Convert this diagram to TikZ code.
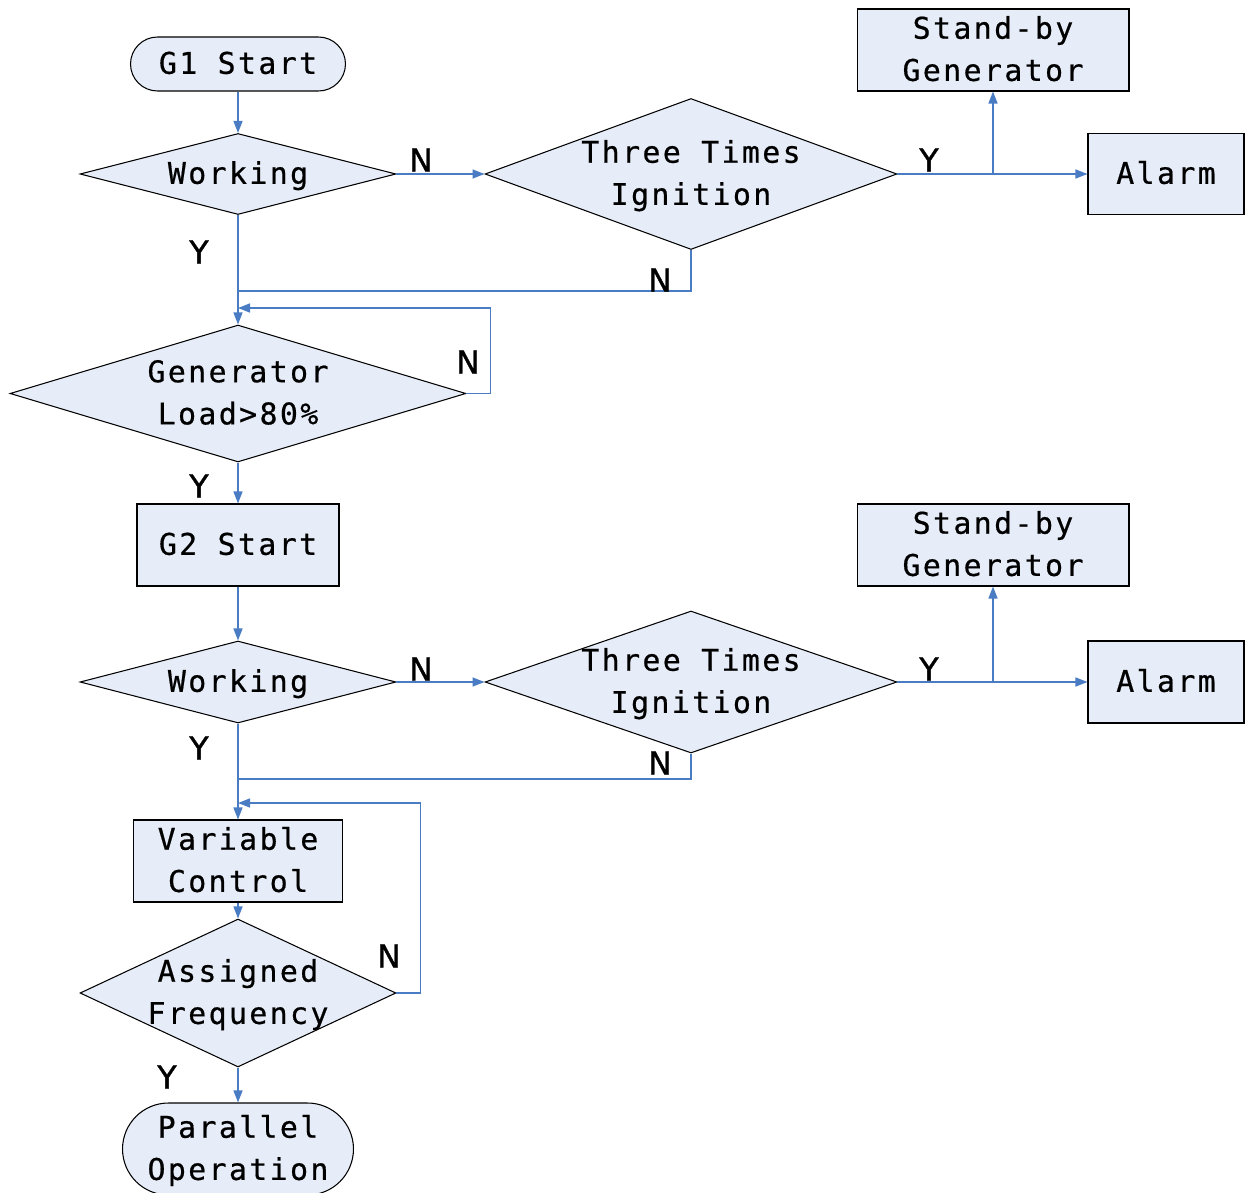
\documentclass[tikz,border=0pt]{standalone}
\usepackage{fontspec}
\usetikzlibrary{shapes.geometric,shapes.misc,arrows.meta}
\newfontfamily\nodefont[LetterSpace=8,FakeBold=0.6]{DejaVu Sans Mono}
\newfontfamily\ynfont[FakeBold=1.2]{DejaVu Sans}
\definecolor{boxfill}{HTML}{E7EDF8}
\definecolor{linkblue}{HTML}{4A7CC4}
\newcommand{\zt}[1]{\makebox[0pt]{\raisebox{-0.3em}[0pt][0pt]{\begin{tabular}{@{}c@{}}#1\end{tabular}}}}
\tikzset{
  base/.style={draw=black, line width=0.6pt, fill=boxfill, inner sep=0pt,
    font=\nodefont\fontsize{17}{24}\selectfont},
  dia/.style={base, diamond, minimum width=#1},
  boxn/.style={base, rectangle},
  term/.style={base, rounded rectangle},
  link/.style={draw=linkblue, line width=0.8pt},
  arr/.style={link, -{Triangle[length=0.24cm,width=0.18cm]}},
  yn/.style={font=\ynfont\fontsize{18}{20}\selectfont, inner sep=0pt}
}
\begin{document}
\begin{tikzpicture}[x=0.02cm,y=-0.02cm]
\useasboundingbox (0,0) rectangle (1245,1193);
% nodes
\node[term, minimum width=4.3cm, minimum height=1.08cm] (g1) at (238,64) {\zt{G1 Start}};
\node[dia=6.32cm, minimum height=1.62cm] (w1) at (238,174) {\zt{Working}};
\node[dia=8.24cm, minimum height=3.02cm] (t1) at (691,174) {\zt{Three Times\\Ignition}};
\node[boxn, minimum width=5.44cm, minimum height=1.64cm] (sb1) at (993,50) {\zt{Stand-by\\Generator}};
\node[boxn, minimum width=3.12cm, minimum height=1.62cm] (al1) at (1166,174) {\zt{Alarm}};
\node[dia=9.12cm, minimum height=2.74cm] (gl) at (238,393.5) {\zt{Generator\\Load>80\%}};
\node[boxn, minimum width=4.04cm, minimum height=1.64cm] (g2) at (238,545) {\zt{G2 Start}};
\node[dia=6.32cm, minimum height=1.64cm] (w2) at (238,682) {\zt{Working}};
\node[dia=8.24cm, minimum height=2.84cm] (t2) at (691,682) {\zt{Three Times\\Ignition}};
\node[boxn, minimum width=5.44cm, minimum height=1.64cm] (sb2) at (993,545) {\zt{Stand-by\\Generator}};
\node[boxn, minimum width=3.12cm, minimum height=1.64cm] (al2) at (1166,682) {\zt{Alarm}};
\node[boxn, minimum width=4.18cm, minimum height=1.64cm] (vc) at (238,861) {\zt{Variable\\Control}};
\node[dia=6.32cm, minimum height=2.96cm] (af) at (238,993) {\zt{Assigned\\Frequency}};
\node[term, minimum width=4.62cm, minimum height=1.84cm] (po) at (238,1149) {\zt{Parallel\\Operation}};
% helper coordinates
\coordinate (j1) at (238,291);
\coordinate (l1) at (238,308);
\coordinate (j2) at (238,779);
\coordinate (l2) at (238,803);
% connectors
\draw[arr] (g1.south) -- (w1.north);
\draw[arr] (w1.east) -- (t1.west);
\draw[arr] (t1.east) -- (al1.west);
\draw[arr] (t1.east -| sb1.south) -- (sb1.south);
\draw[arr] (w1.south) -- (gl.north);
\draw[link] (t1.south) |- (j1);
\draw[arr] (gl.east) -- ++(24,0) |- (l1);
\draw[arr] (gl.south) -- (g2.north);
\draw[arr] (g2.south) -- (w2.north);
\draw[arr] (w2.east) -- (t2.west);
\draw[arr] (t2.east) -- (al2.west);
\draw[arr] (t2.east -| sb2.south) -- (sb2.south);
\draw[arr] (w2.south) -- (vc.north);
\draw[link] (t2.south) |- (j2);
\draw[arr] (vc.south) -- (af.north);
\draw[arr] (af.east) -- ++(24,0) |- (l2);
\draw[arr] (af.south) -- (po.north);
% labels
\node[yn] (n1) at (421,160) {N};
\node[yn] (y1) at (929,160) {Y};
\node[yn] (y2) at (199,252) {Y};
\node[yn] (n2) at (660,280) {N};
\node[yn] (n3) at (468,362) {N};
\node[yn] (y3) at (199,486) {Y};
\node[yn] (n4) at (421,669) {N};
\node[yn] (y4) at (929,669) {Y};
\node[yn] (y5) at (199,748) {Y};
\node[yn] (n5) at (660,763) {N};
\node[yn] (n6) at (389,956) {N};
\node[yn] (y6) at (167,1077) {Y};
\end{tikzpicture}
\end{document}
